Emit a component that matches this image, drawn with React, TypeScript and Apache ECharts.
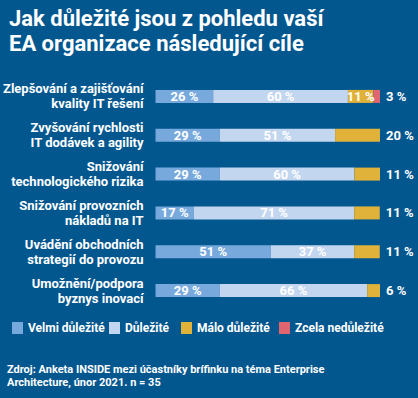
import React, { useEffect, useRef } from "react";
import * as echarts from "echarts";

const categories = [
  "Zlepšování a zajišťování\nkvality IT řešení",
  "Zvyšování rychlosti\nIT dodávek a agility",
  "Snižování\ntechnologického rizika",
  "Snižování provozních\nnákladů na IT",
  "Uvádění obchodních\nstrategií do provozu",
  "Umožnění/podpora\nbyznys inovací",
];
const seriesNames = ["Velmi důležité", "Důležité", "Málo důležité", "Zcela nedůležité"];
const velmi = [25.7, 28.6, 28.6, 17.1, 51.4, 28.6];
const dulezite = [60.0, 51.4, 60.0, 71.4, 37.1, 65.7];
const malo = [11.4, 20.0, 11.4, 11.4, 11.4, 5.7];
const zcela = [2.9, 0, 0, 0, 0, 0];
const colors = ["#77a9dc", "#c3d6ef", "#e0b23a", "#e06571"];
const title = "Jak důležité jsou z pohledu vaší\nEA organizace následující cíle";
const sourceLines = [
  "Zdroj: Anketa INSIDE mezi účastníky brífinku na téma Enterprise",
  "Architecture, únor 2021. n = 35",
];

const FONT = "'Liberation Sans Narrow', 'Roboto'";
const fmt = (p: any) => Math.round(p.value) + " %";
const legendLefts = [7, 104, 176, 274];

export default function App() {
  const ref = useRef<HTMLDivElement>(null);
  useEffect(() => {
    const chart = echarts.init(ref.current!, null, { renderer: "svg" });
    const labelStyle = { color: "#ffffff", fontFamily: FONT, fontSize: 13, fontWeight: "bold" };
    chart.setOption({
      animation: false,
      backgroundColor: "#03578f",
      title: [
        {
          text: title,
          left: 4,
          top: 1,
          textStyle: { color: "#ffffff", fontFamily: FONT, fontSize: 22, fontWeight: "bold", lineHeight: 25 },
        },
        ...sourceLines.map((t, i) => ({
          text: t,
          left: 2,
          top: 358 + i * 13.5,
          padding: [5, 5, 0, 5],
          textStyle: { color: "#ffffff", fontFamily: FONT, fontSize: 11, fontWeight: "bold", lineHeight: 12 },
        })),
      ],
      legend: seriesNames.map((n, i) => ({
        data: [n],
        left: legendLefts[i],
        top: 317,
        icon: "rect",
        itemWidth: 11,
        itemHeight: 12,
        itemGap: 0,
        textStyle: { color: "#ffffff", fontFamily: FONT, fontSize: 12, fontWeight: "bold" },
      })),
      grid: { left: 139, right: 38, top: 77, height: 233, containLabel: false },
      xAxis: { type: "value", min: 0, max: 100, show: false },
      yAxis: {
        type: "category",
        data: categories,
        inverse: true,
        axisLine: { show: false },
        axisTick: { show: false },
        axisLabel: {
          color: "#ffffff",
          fontFamily: FONT,
          fontSize: 13,
          fontWeight: "bold",
          lineHeight: 15,
          margin: 12,
          align: "right",
        },
      },
      series: [
        {
          name: seriesNames[0],
          type: "bar",
          stack: "a",
          barWidth: 13,
          itemStyle: { color: colors[0] },
          label: { show: true, position: "inside", formatter: fmt, ...labelStyle },
          data: velmi,
        },
        {
          name: seriesNames[1],
          type: "bar",
          stack: "a",
          barWidth: 13,
          itemStyle: { color: colors[1] },
          label: { show: true, position: "inside", formatter: fmt, ...labelStyle },
          data: dulezite,
        },
        {
          name: seriesNames[2],
          type: "bar",
          stack: "a",
          barWidth: 13,
          itemStyle: { color: colors[2] },
          label: { show: true, position: "right", distance: 6, formatter: fmt, ...labelStyle },
          data: malo.map((v, i) =>
            zcela[i] > 0 ? { value: v, label: { position: "inside" } } : v
          ),
        },
        {
          name: seriesNames[3],
          type: "bar",
          stack: "a",
          barWidth: 13,
          itemStyle: { color: colors[3] },
          label: { show: true, position: "right", distance: 6, formatter: fmt, ...labelStyle },
          data: zcela.map((v) => (v > 0 ? v : { value: v, label: { show: false } })),
        },
      ],
    });
    return () => chart.dispose();
  }, []);
  return <div ref={ref} style={{ position: "fixed", left: 0, top: 0, width: 418, height: 398 }} />;
}
